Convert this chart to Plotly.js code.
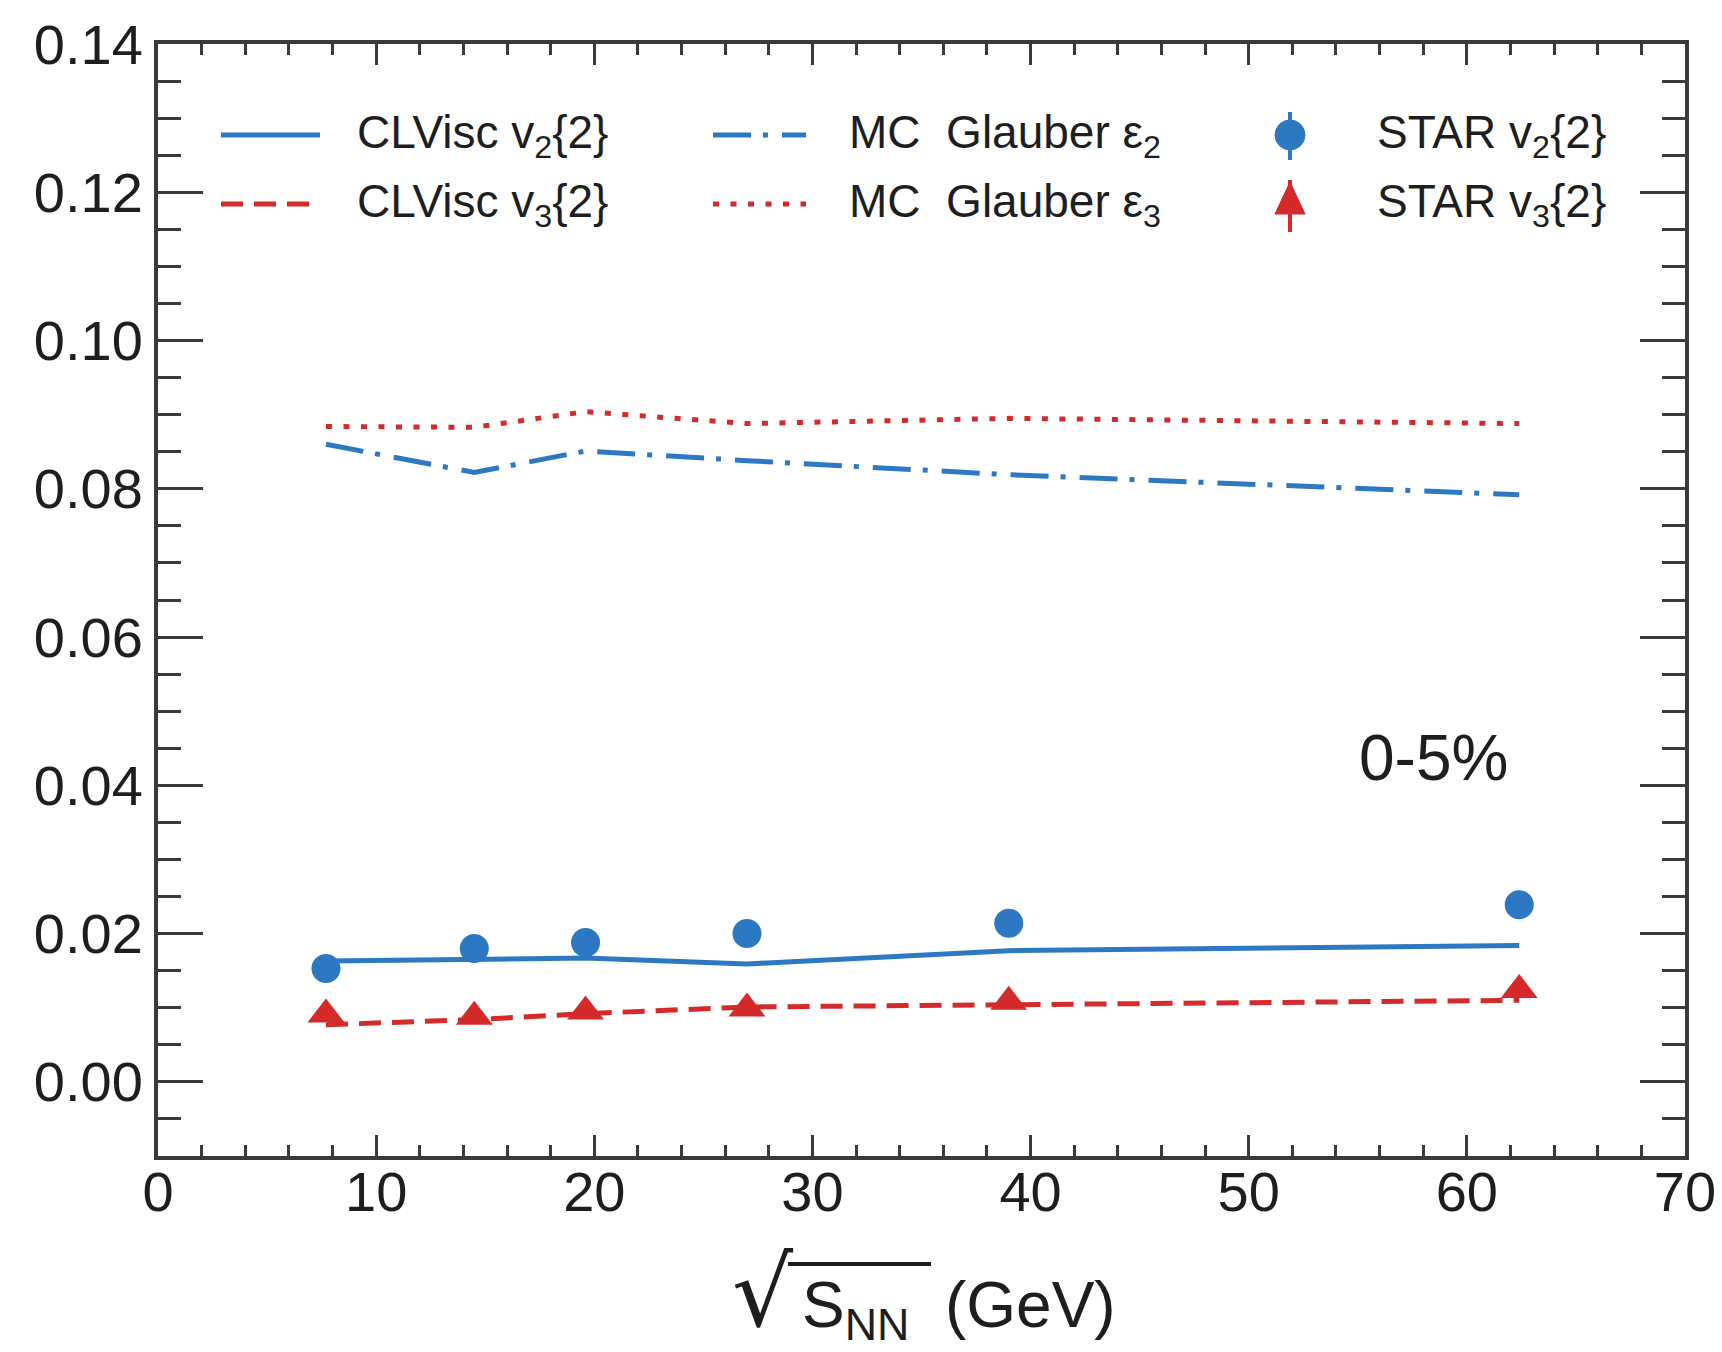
<!DOCTYPE html>
<html>
<head>
<meta charset="utf-8">
<script src="https://cdn.plot.ly/plotly-3.0.1.min.js"></script>
<style>
  html, body { margin: 0; padding: 0; background: #ffffff; }
  #chart { width: 1722px; height: 1352px; }
</style>
</head>
<body>
<div id="chart"></div>
<script>
// ---------------- data ----------------
const sqrtS       = [7.7, 14.5, 19.6, 27, 39, 62.4];
const clviscV2    = [0.0163, 0.0166, 0.0167, 0.0159, 0.0177, 0.0184];
const clviscV3    = [0.0077, 0.0084, 0.0092, 0.0101, 0.0104, 0.0110];
const glauberE2   = [0.0860, 0.0822, 0.0851, 0.0838, 0.0819, 0.0792];
const glauberE3   = [0.0884, 0.0883, 0.0904, 0.0888, 0.0895, 0.0888];
const starV2      = [0.0153, 0.0180, 0.0188, 0.0200, 0.0214, 0.0239];
const starV3      = [0.0091, 0.0088, 0.0095, 0.0099, 0.0108, 0.0124];

const legendLabels = [
  ["CLVisc v<sub>2</sub>{2}", "MC  Glauber ε<sub>2</sub>", "STAR v<sub>2</sub>{2}"],
  ["CLVisc v<sub>3</sub>{2}", "MC  Glauber ε<sub>3</sub>", "STAR v<sub>3</sub>{2}"]
];
const centralityLabel = "0-5%";
const xTitleMain = "S<sub>NN</sub>  (GeV)";
const xTitleRoot = "√";

// ---------------- styling ----------------
const BLUE = "#2d78c3";
const RED  = "#d42a2a";
const AXC  = "#3a3a3a";
const TXT  = "#1e1e1e";
const FONT = "Liberation Sans, Arial, sans-serif";

const W = 1722, H = 1352;
const L = 158, R = 1685, T = 44, B = 1156;
const px = x => (x - L) / (R - L);
const py = y => (B - y) / (B - T);

const DASH  = "22px,11px";
const DDOT  = "38px,12px,5px,14px";
const DOT   = "6px,11.5px";

const traces = [
  { x: sqrtS, y: glauberE3, mode: "lines", line: { color: RED, width: 5, dash: DOT } },
  { x: sqrtS, y: glauberE2, mode: "lines", line: { color: BLUE, width: 5, dash: DDOT } },
  { x: sqrtS, y: clviscV3, mode: "lines", line: { color: RED, width: 5, dash: DASH } },
  { x: sqrtS, y: clviscV2, mode: "lines", line: { color: BLUE, width: 5 } },
  { x: sqrtS, y: starV3, mode: "markers", marker: { symbol: "triangle-up", size: 32, color: RED } },
  { x: sqrtS, y: starV2, mode: "markers", marker: { symbol: "circle", size: 29, color: BLUE } }
];

// legend drawn manually (long line samples like the original)
const rowY = [135, 204];
const shapes = [];
const annotations = [];
const lineSamples = [
  [{ c: BLUE, d: "solid" }, { c: BLUE, d: DDOT }],
  [{ c: RED, d: DASH }, { c: RED, d: DOT }]
];
const sampleX = [[221, 320], [713, 806]];
const textX = [355, 847, 1375];
for (let r = 0; r < 2; r++) {
  for (let c = 0; c < 2; c++) {
    shapes.push({ type: "line", xref: "paper", yref: "paper",
      x0: px(sampleX[c][0]), x1: px(sampleX[c][1]), y0: py(rowY[r]), y1: py(rowY[r]),
      line: { color: lineSamples[r][c].c, width: 5, dash: lineSamples[r][c].d } });
  }
  for (let c = 0; c < 3; c++) {
    annotations.push({ xref: "paper", yref: "paper", x: px(textX[c]), y: py(rowY[r]),
      xanchor: "left", yanchor: "middle", showarrow: false, text: legendLabels[r][c],
      font: { family: FONT, size: 46, color: TXT } });
  }
}
// STAR v2 legend marker (circle + error bar)
const mx = 1290;
shapes.push({ type: "line", xref: "paper", yref: "paper", x0: px(mx), x1: px(mx),
  y0: py(112), y1: py(160), line: { color: BLUE, width: 4 } });
shapes.push({ type: "circle", xref: "paper", yref: "paper", fillcolor: BLUE,
  line: { color: BLUE, width: 1 },
  x0: px(mx - 15), x1: px(mx + 15), y0: py(rowY[0] + 15), y1: py(rowY[0] - 15) });
// STAR v3 legend marker (triangle + error bar)
shapes.push({ type: "line", xref: "paper", yref: "paper", x0: px(mx), x1: px(mx),
  y0: py(180), y1: py(232), line: { color: RED, width: 4 } });
shapes.push({ type: "path", xref: "paper", yref: "paper", fillcolor: RED,
  line: { color: RED, width: 1 },
  path: `M ${px(mx - 15)} ${py(214)} L ${px(mx + 15)} ${py(214)} L ${px(mx)} ${py(182)} Z` });

// centrality label
annotations.push({ xref: "paper", yref: "paper", x: px(1357), y: py(758),
  xanchor: "left", yanchor: "middle", showarrow: false, text: centralityLabel,
  font: { family: FONT, size: 64, color: TXT } });

// x-axis title
annotations.push({ xref: "paper", yref: "paper", x: px(730), y: py(1351),
  xanchor: "left", yanchor: "bottom", showarrow: false, text: xTitleRoot,
  font: { family: "DejaVu Sans, sans-serif", size: 96, color: TXT } });
annotations.push({ xref: "paper", yref: "paper", x: px(800), y: py(1351),
  xanchor: "left", yanchor: "bottom", showarrow: false, text: xTitleMain,
  font: { family: FONT, size: 64, color: TXT } });
shapes.push({ type: "line", xref: "paper", yref: "paper", x0: px(788), x1: px(931),
  y0: py(1264), y1: py(1264), line: { color: TXT, width: 4 } });

const axisCommon = {
  showgrid: false, zeroline: false, showline: true, linecolor: AXC, linewidth: 4,
  mirror: "allticks", ticks: "inside", tickcolor: AXC, tickwidth: 3,
  tickfont: { family: FONT, size: 56, color: TXT }
};

const layout = {
  width: W, height: H,
  margin: { l: L, r: W - R, t: T, b: H - B, pad: 0 },
  paper_bgcolor: "#ffffff", plot_bgcolor: "#ffffff",
  showlegend: false,
  xaxis: Object.assign({}, axisCommon, {
    range: [0, 70], tick0: 0, dtick: 10, ticklen: 21,
    minor: { dtick: 2, tick0: 0, ticks: "inside", ticklen: 11, tickwidth: 3, tickcolor: AXC, showgrid: false },
    ticklabelstandoff: -16
  }),
  yaxis: Object.assign({}, axisCommon, {
    range: [-0.01, 0.14], tick0: 0, dtick: 0.02, tickformat: ".2f", ticklen: 45,
    minor: { dtick: 0.005, tick0: 0, ticks: "inside", ticklen: 23, tickwidth: 3, tickcolor: AXC, showgrid: false },
    ticklabelstandoff: 0
  }),
  shapes: shapes,
  annotations: annotations
};

Plotly.newPlot("chart", traces, layout, { displayModeBar: false, staticPlot: true });
</script>
</body>
</html>
